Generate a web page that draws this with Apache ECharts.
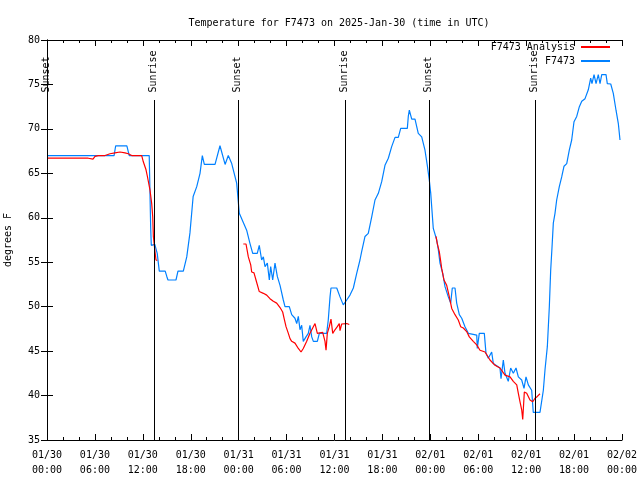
<!DOCTYPE html>
<html>
<head>
<meta charset="utf-8">
<script src="https://cdn.jsdelivr.net/npm/echarts@6/dist/echarts.min.js"></script>
<style>html,body{margin:0;padding:0;background:#fff}#c{width:640px;height:480px}</style>
</head>
<body>
<div id="c"></div>
<script>
// hours since 2025-01-30 00:00 UTC
var blueHours = [0,8.4,8.6,10.0,10.3,12.8,12.98,13.06,13.5,13.8,14.06,14.8,15.0,15.15,16.15,16.4,17.07,17.5,17.9,18.3,18.5,18.75,19.16,19.45,19.7,21.04,21.66,22.3,22.7,23.13,23.75,24.08,25.0,25.42,25.76,26.33,26.58,26.88,27.09,27.3,27.59,27.84,28.01,28.26,28.55,28.84,29.18,29.59,29.8,30.34,30.64,31.05,31.27,31.47,31.68,31.89,32.09,32.43,32.72,32.93,33.15,33.35,33.85,34.1,35.02,35.22,35.44,35.56,36.28,36.69,37.1,37.32,37.53,37.94,38.36,38.78,39.19,39.4,39.82,40.23,40.66,41.07,41.49,41.91,42.32,42.74,43.16,43.58,43.99,44.29,45.12,45.24,45.37,45.67,46.08,46.49,46.92,47.33,47.62,47.87,48.05,48.37,48.8,49.0,49.21,49.55,49.84,50.25,50.55,50.75,51.09,51.3,51.63,51.93,52.34,52.76,53.81,53.88,54.13,54.76,54.97,55.26,55.68,55.89,56.72,56.85,57.14,57.35,57.76,58.06,58.39,58.73,59.02,59.44,59.73,59.98,60.27,60.69,60.89,61.73,62.15,62.36,62.65,62.9,63.07,63.24,63.4,63.61,63.82,64.15,64.45,64.74,65.08,65.4,65.7,65.99,66.33,66.66,66.96,67.37,67.78,68.08,68.24,68.5,68.75,69.03,69.25,69.46,70.0,70.16,70.59,70.91,71.25,71.54,71.75];
var blueTemps = [67,67,68.1,68.1,67,67,59,56.9,57,56,54,54,53.4,53,53,54,54,55.6,58.3,62.4,62.2,63.5,65,67,66,66,68.1,66,67,66.1,63.9,60.5,58.6,57.1,56,56,56.9,55.25,55.6,54.5,54.9,53,54.5,53,54.9,53.4,52.4,50.75,50,50,49.1,48.7,48.1,48.9,47.4,47.9,46.1,46.6,47,47.9,46.6,46.1,46.1,47,47,48.5,51.1,52.1,52.1,51.1,50.2,50.1,50.75,51.3,52.1,53.75,55.25,56.2,57.9,58.25,60.1,62,62.75,64.06,65.9,66.7,68,69.05,69.05,70.06,70.06,71.4,72.1,71.1,71.1,69.5,69.1,67.6,65.9,64.25,62.75,58.8,57.5,56.4,54.9,53.75,52.25,51.1,50.4,52.1,52.1,50.4,49.1,48.7,47.75,47,46.8,45.3,47,47,44.75,44.2,44.9,43.6,43.1,41.9,44,42.5,41.6,43.1,42.5,43.1,42.1,41.75,40.8,42.1,41.2,40.6,38.1,38.1,40.6,42.9,45.5,50,54.1,56.75,59.4,60.5,62,63.5,64.6,65.8,66.1,67.6,68.75,70.8,71.4,72.5,73.1,73.4,74.4,75.7,75.1,76.1,75.1,76.1,75.1,76.1,76.1,75.1,75.05,74,72.1,70.6,68.75];
var redHours = [0,5.17,5.38,5.76,6.01,6.42,7.26,7.89,8.51,9.14,9.77,10.18,10.61,11.86,12.06,12.4,12.56,12.77,12.9,13.11,13.24,13.32,13.44,13.52,13.65,13.81,
  19,
  24.58,24.92,25.21,25.51,25.63,25.92,26.17,26.58,27.09,27.51,27.92,28.34,28.76,29.18,29.51,29.71,29.93,30.22,30.43,30.64,31.05,31.47,31.81,32.09,32.52,32.93,33.27,33.56,33.85,34.52,34.81,34.94,35.1,35.35,35.56,35.78,36.06,36.35,36.6,36.69,36.9,37.53,37.85,
  43,
  48.71,48.87,49.12,49.3,49.42,49.71,50.05,50.38,50.68,51.09,51.5,51.8,52.13,52.55,52.88,53.38,53.81,54.22,54.85,55.47,56.1,56.72,57.35,57.98,58.39,58.82,59.02,59.23,59.44,59.57,59.67,59.77,60.07,60.48,60.82,61.11,61.4,61.73];
var redTemps = [66.7,66.7,66.6,66.6,66.9,67,67,67.2,67.3,67.4,67.3,67.2,67,67,66.3,65.4,64.7,64.7,63.1,61.6,60.1,57.9,56.9,56.2,55.25,55.2,
  null,
  57.05,57.05,55.6,54.7,53.9,53.8,53,51.7,51.5,51.3,50.9,50.6,50.4,49.9,49.4,48.6,47.75,47,46.4,46.1,45.9,45.3,44.9,45.3,46.1,47,47.6,48.1,47,47.1,46.1,45.1,47,47.75,48.6,47,47.4,47.75,48.1,47.3,48.05,48.1,48,
  null,
  57.9,57.1,56.2,55.1,54.3,53,52.4,51.1,49.8,49.1,48.5,47.75,47.6,47.2,46.6,46.1,45.7,45.1,44.9,44,43.4,43.1,42.3,42.1,41.6,41.2,40.25,39.3,38.4,37.3,37.5,40.4,40.25,39.5,39.3,39.7,39.9,40.2];
var eventHours = [0, 13.4, 23.95, 37.3, 47.87, 61.1];
var eventNames = ['Sunset','Sunrise','Sunset','Sunrise','Sunset','Sunrise'];
var tickDates = ['01/30','01/30','01/30','01/30','01/31','01/31','01/31','01/31','02/01','02/01','02/01','02/01','02/02'];
var tickTimes = ['00:00','06:00','12:00','18:00','00:00','06:00','12:00','18:00','00:00','06:00','12:00','18:00','00:00'];
var lineTop = 73.25;

var FONT = 'DejaVu Sans Mono';
function pairs(xs, ys){ var o=[]; for(var i=0;i<xs.length;i++){ o.push([xs[i], ys[i]==null?'-':ys[i]]); } return o; }

var chart = echarts.init(document.getElementById('c'), null, {renderer:'canvas'});
var axisCommon = {
  min: 0, max: 72, interval: 6, type: 'value',
  axisLine: {show:true, lineStyle:{color:'#000', width:1}},
  axisTick: {show:true, inside:true, length:6, lineStyle:{color:'#000'}},
  minorTick: {show:true, splitNumber:3, length:3, lineStyle:{color:'#000'}},
  splitLine: {show:false}
};
var option = {
  animation: false,
  backgroundColor: '#fff',
  textStyle: {fontFamily: FONT},
  title: {
    text: 'Temperature for F7473 on 2025-Jan-30 (time in UTC)',
    left: 334, top: 13, textAlign: 'center',
    textStyle: {fontFamily: FONT, fontSize: 10, fontWeight: 'normal', color: '#000'}
  },
  legend: [
    {data:['F7473 Analysis'], right: 30, top: 42, padding: 0, align: 'right', itemWidth: 29, itemHeight: 2, itemGap: 0, icon: 'rect',
     textStyle:{fontFamily:FONT, fontSize:10, color:'#000', padding:[0,1,0,0]}},
    {data:['F7473'], right: 30, top: 56, padding: 0, align: 'right', itemWidth: 29, itemHeight: 2, itemGap: 0, icon: 'rect',
     textStyle:{fontFamily:FONT, fontSize:10, color:'#000', padding:[0,1,0,0]}}
  ],
  grid: {left: 47, right: 18, top: 40, bottom: 40, containLabel: false, outerBoundsMode: 'none'},
  xAxis: [
    Object.assign({}, axisCommon, {
      position: 'bottom',
      axisLabel: {show:true, margin: 8, color:'#000', fontFamily: FONT, fontSize: 10, lineHeight: 15,
        formatter: function(v){ var i=Math.round(v/6); return tickDates[i] + '\n' + tickTimes[i]; }}
    }),
    Object.assign({}, axisCommon, {position: 'top', axisLabel:{show:false}})
  ],
  yAxis: [
    {type:'value', min:35, max:80, interval:5, position:'left',
     name:'degrees F', nameLocation:'middle', nameGap: 34, nameRotate: 90,
     nameTextStyle:{fontFamily:FONT, fontSize:10, color:'#000'},
     axisLine:{show:true, lineStyle:{color:'#000'}},
     axisTick:{show:true, inside:true, length:6, lineStyle:{color:'#000'}},
     axisLabel:{color:'#000', fontFamily:FONT, fontSize:10, margin:7},
     splitLine:{show:false}},
    {type:'value', min:35, max:80, interval:5, position:'right',
     axisLine:{show:true, lineStyle:{color:'#000'}},
     axisTick:{show:true, inside:true, length:6, lineStyle:{color:'#000'}},
     axisLabel:{show:false}, splitLine:{show:false}}
  ],
  series: [
    {name:'F7473', type:'line', data: pairs(blueHours, blueTemps), symbol:'none', showSymbol:false,
     lineStyle:{color:'#0080ff', width:1.2}, itemStyle:{color:'#0080ff'}, z: 2, connectNulls:false},
    {name:'F7473 Analysis', type:'line', data: pairs(redHours, redTemps), symbol:'none', showSymbol:false,
     lineStyle:{color:'#ff0000', width:1.2}, itemStyle:{color:'#ff0000'}, z: 3, connectNulls:false},
    {name:'events', type:'scatter', z: 5, symbol:'rect', symbolSize: 1,
     itemStyle:{color:'rgba(0,0,0,0)'},
     data: eventHours.map(function(h,i){ return {value:[h, lineTop], name: eventNames[i]}; }),
     label:{show:true, formatter: function(p){ return p.name; }, position:[0,-7], rotate: 90,
       align:'left', verticalAlign:'middle', fontFamily:FONT, fontSize:10, color:'#000', opacity:1},
     markLine:{silent:true, symbol:['none','none'], animation:false,
       lineStyle:{color:'#000', width:1, type:'solid'}, label:{show:false},
       data: eventHours.map(function(h){ return [{coord:[h,35]},{coord:[h,lineTop]}]; })}
    }
  ]
};
chart.setOption(option);
</script>
</body>
</html>
